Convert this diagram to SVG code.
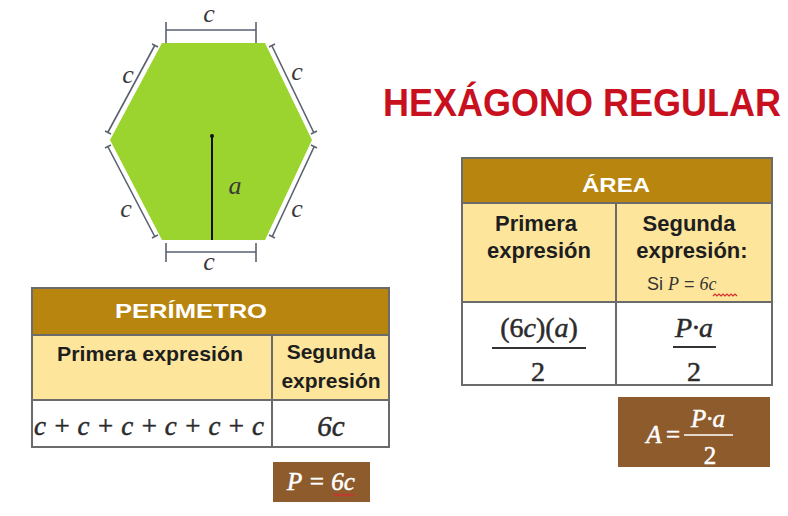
<svg xmlns="http://www.w3.org/2000/svg" width="788" height="516" viewBox="0 0 788 516">
<style>
.dim{stroke:#5a6270;stroke-width:1.6;fill:none}
.m{font-family:"Liberation Serif","DejaVu Serif",serif;font-style:italic}
.mi{font-family:"Liberation Serif","DejaVu Serif",serif}
.lbl{font-size:26px;fill:#3a3a3a}
.heavy{stroke:#2b2b2b;stroke-width:0.5}
.heavyw{stroke:#ffffff;stroke-width:0.5}
.hd{font-family:"Liberation Sans",Arial,sans-serif;font-weight:bold;fill:#ffffff;font-size:21px;text-anchor:middle}
.sh{font-family:"Liberation Sans",Arial,sans-serif;font-weight:bold;fill:#1e1e1e;font-size:21px;text-anchor:middle}
.sh2{font-size:22px}
.cell{stroke:#6b6b6b;stroke-width:2}
.gold{fill:#b8860e}
.cream{fill:#fde59c}
.brown{fill:#8e5b2c}
.wavy{stroke:#d03030;stroke-width:1.2;fill:none}
</style>
<rect width="788" height="516" fill="#ffffff"/>

<g id="hexagon">
  <polygon points="162,43 265,43 312,140 265,240 162,240 110,140" fill="#9bd32f"/>
  <line x1="212" y1="136" x2="212" y2="240" stroke="#111" stroke-width="2"/>
  <circle cx="212" cy="136" r="2" fill="#111"/>
  <text class="m lbl" x="235" y="194" text-anchor="middle" font-size="28">a</text>
</g>

<g id="dimensions">
  <path class="dim" d="M166,30 H256 M166,22 V43 M256,22 V43"/>
  <path class="dim" d="M166,252 H256 M166,243 V262 M256,243 V262"/>
  <path class="dim" d="M108,132 L155,45 M105,131 L111,134 M152,44 L158,47"/>
  <path class="dim" d="M272,46 L314,133 M269,47 L275,44 M311,134 L317,131"/>
  <path class="dim" d="M108,147 L155,237 M105,148 L111,145 M152,238 L158,235"/>
  <path class="dim" d="M314,147 L272,237 M311,145 L317,148 M269,235 L275,238"/>
  <text class="m lbl" x="209" y="22" text-anchor="middle">c</text>
  <text class="m lbl" x="128" y="83" text-anchor="middle">c</text>
  <text class="m lbl" x="297" y="80" text-anchor="middle">c</text>
  <text class="m lbl" x="126" y="217" text-anchor="middle">c</text>
  <text class="m lbl" x="297" y="217" text-anchor="middle">c</text>
  <text class="m lbl" x="209" y="270" text-anchor="middle">c</text>
</g>

<g id="title">
  <text transform="translate(383,116) scale(1,1.1)" x="0" y="0" font-family="Liberation Sans, Arial, sans-serif" font-weight="bold" font-size="36" fill="#c8101e">HEXÁGONO REGULAR</text>
</g>

<g id="perimetro-table">
  <rect class="gold" x="32" y="288" width="357" height="47"/>
  <rect class="cream" x="32" y="335" width="357" height="65"/>
  <rect x="32" y="400" width="357" height="47" fill="#ffffff"/>
  <rect x="32" y="288" width="357" height="159" fill="none" class="cell"/>
  <line class="cell" x1="32" y1="335" x2="389" y2="335"/>
  <line class="cell" x1="32" y1="400" x2="389" y2="400"/>
  <line class="cell" x1="272" y1="335" x2="272" y2="447"/>
  <text class="hd" x="191" y="318" textLength="152" lengthAdjust="spacingAndGlyphs">PERÍMETRO</text>
  <text class="sh" x="150" y="361" textLength="186" lengthAdjust="spacingAndGlyphs">Primera expresión</text>
  <text class="sh" x="331" y="359">Segunda</text>
  <text class="sh" x="331" y="388">expresión</text>
  <text class="m heavy" x="34" y="435" font-size="27" fill="#2b2b2b" textLength="230" lengthAdjust="spacingAndGlyphs">c + c + c + c + c + c</text>
  <text class="m heavy" x="331" y="436" font-size="29" fill="#2b2b2b" text-anchor="middle">6c</text>
</g>

<g id="p-box">
  <rect class="brown" x="273" y="462" width="97" height="40"/>
  <text class="m heavyw" x="321" y="490" font-size="25" fill="#fff" text-anchor="middle">P = 6c</text>
  <path class="wavy" d="M334,496 l2,-2 l2,2 l2,-2 l2,2 l2,-2 l2,2 l2,-2 l2,2 l2,-2 l2,2"/>
</g>

<g id="area-table">
  <rect class="gold" x="462" y="158" width="310" height="45"/>
  <rect class="cream" x="462" y="203" width="310" height="99"/>
  <rect x="462" y="302" width="310" height="83" fill="#ffffff"/>
  <rect x="462" y="158" width="310" height="227" fill="none" class="cell"/>
  <line class="cell" x1="462" y1="203" x2="772" y2="203"/>
  <line class="cell" x1="462" y1="302" x2="772" y2="302"/>
  <line class="cell" x1="616" y1="203" x2="616" y2="385"/>
  <text class="hd" x="616" y="192" textLength="68" lengthAdjust="spacingAndGlyphs">ÁREA</text>
  <text class="sh sh2" x="536" y="231">Primera</text>
  <text class="sh sh2" x="539" y="258">expresión</text>
  <text class="sh sh2" x="689" y="231">Segunda</text>
  <text class="sh sh2" x="692" y="258">expresión:</text>
  <text x="647" y="290" font-family="Liberation Sans, Arial, sans-serif" font-size="18" fill="#333">Si <tspan class="m">P</tspan> = <tspan class="m">6c</tspan></text>
  <path class="wavy" d="M713,296 l2,-2 l2,2 l2,-2 l2,2 l2,-2 l2,2 l2,-2 l2,2 l2,-2 l2,2 l2,-2 l2,2"/>
  <text class="mi heavy" x="539" y="337" font-size="28" fill="#2b2b2b" text-anchor="middle">(6<tspan class="m">c</tspan>)(<tspan class="m">a</tspan>)</text>
  <line x1="492" y1="348" x2="586" y2="348" stroke="#333" stroke-width="2"/>
  <text class="mi heavy" x="538" y="381" font-size="28" fill="#2b2b2b" text-anchor="middle">2</text>
  <text class="m heavy" x="694" y="337" font-size="28" fill="#2b2b2b" text-anchor="middle">P·a</text>
  <line x1="673" y1="347" x2="716" y2="347" stroke="#333" stroke-width="2"/>
  <text class="mi heavy" x="694" y="381" font-size="28" fill="#2b2b2b" text-anchor="middle">2</text>
</g>

<g id="a-box">
  <rect class="brown" x="618" y="397" width="152" height="70"/>
  <text class="m heavyw" x="654" y="443" font-size="25" fill="#fff" text-anchor="middle">A</text>
  <text class="mi heavyw" x="673" y="443" font-size="25" fill="#fff" text-anchor="middle">=</text>
  <text class="m heavyw" x="708" y="427" font-size="25" fill="#fff" text-anchor="middle">P·a</text>
  <line x1="684" y1="435" x2="733" y2="435" stroke="#fff" stroke-width="1.6"/>
  <text class="mi heavyw" x="710" y="464" font-size="25" fill="#fff" text-anchor="middle">2</text>
</g>
</svg>
